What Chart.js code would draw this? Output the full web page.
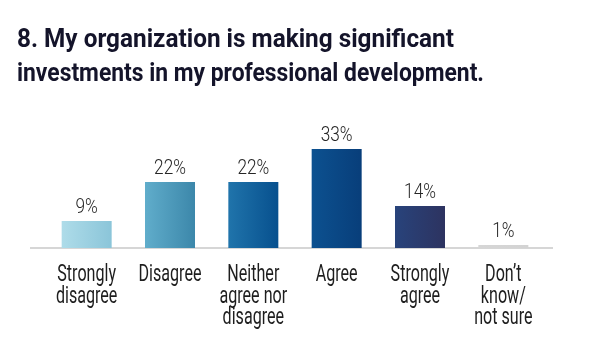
<!DOCTYPE html>
<html>
<head>
<meta charset="utf-8">
<script src="https://cdn.jsdelivr.net/npm/chart.js@4.4.1/dist/chart.umd.min.js"></script>
<style>
  html, body { margin: 0; padding: 0; background: #fff; }
  #wrap { position: relative; width: 600px; height: 355px; overflow: hidden; }
  #title {
    position: absolute; left: 17px; top: 21px;
    font-family: Roboto, 'Liberation Sans', sans-serif;
    font-weight: bold; font-size: 25.5px; line-height: 34px; color: #14142a;
    white-space: nowrap;
  }
  #title span { display: inline-block; transform-origin: 0 0; }
  canvas { position: absolute; left: 0; top: 0; }
</style>
</head>
<body>
<div id="wrap">
  <canvas id="c" width="600" height="355"></canvas>
  <div id="title"><span data-w="437">8. My organization is making significant</span><br><span data-w="467">investments in my professional development.</span></div>
</div>
<script>
// ---- data ----
const categories = [
  ['Strongly', 'disagree'],
  ['Disagree'],
  ['Neither', 'agree nor', 'disagree'],
  ['Agree'],
  ['Strongly', 'agree'],
  ['Don\u2019t', 'know/', 'not sure']
];
const values = [9, 22, 22, 33, 14, 1];
const valueLabels = ['9%', '22%', '22%', '33%', '14%', '1%'];

// ---- style ----
const gradLeft  = ['#aedce9', '#60adcb', '#2074ab', '#0c5190', '#28437b', '#d6d6d6'];
const gradRight = ['#8bc5d9', '#3c87aa', '#07508e', '#083e7a', '#2d3360', '#d3d3d3'];
const FONT = "Roboto, 'Liberation Sans', sans-serif";
const SQUEEZE = 0.7;

document.querySelectorAll('#title span').forEach(s => {
  const w = s.getBoundingClientRect().width;
  s.style.transform = 'scaleX(' + (parseFloat(s.dataset.w) / w) + ')';
});

// Category axis whose labels are drawn horizontally condensed
class CondensedCategory extends Chart.CategoryScale {
  drawLabels(chartArea) {
    const ctx = this.ctx;
    const items = this.getLabelItems(chartArea);
    for (const item of items) {
      const o = item.options;
      const lines = Array.isArray(item.label) ? item.label : [item.label];
      ctx.save();
      ctx.translate(o.translation[0], o.translation[1]);
      ctx.scale(SQUEEZE, 1);
      ctx.font = item.font.string;
      ctx.fillStyle = o.color;
      ctx.textAlign = 'center';
      ctx.textBaseline = 'alphabetic';
      lines.forEach((ln, i) => ctx.fillText(ln, 0, i * item.font.lineHeight));
      ctx.restore();
    }
  }
}
CondensedCategory.id = 'condensedCategory';
CondensedCategory.defaults = Chart.CategoryScale.defaults;
Chart.register(CondensedCategory);

function barColor(ctx) {
  const chart = ctx.chart;
  const xs = chart.scales && chart.scales.x;
  if (!chart.chartArea || !xs) return gradLeft[ctx.dataIndex];
  const cx = xs.getPixelForValue(ctx.dataIndex);
  const half = xs.width / categories.length * 0.3;
  const g = chart.ctx.createLinearGradient(cx - half, 0, cx + half, 0);
  g.addColorStop(0, gradLeft[ctx.dataIndex]);
  g.addColorStop(1, gradRight[ctx.dataIndex]);
  return g;
}

const extras = {
  id: 'extras',
  beforeDatasetsDraw(chart) {
    const c = chart.ctx, a = chart.chartArea;
    const y0 = chart.scales.y.getPixelForValue(0);
    c.save();
    c.strokeStyle = '#c9c9c9';
    c.lineWidth = 1.5;
    c.beginPath();
    c.moveTo(a.left - 15, y0);
    c.lineTo(a.right + 8, y0);
    c.stroke();
    c.restore();
  },
  afterDatasetsDraw(chart) {
    const c = chart.ctx;
    const meta = chart.getDatasetMeta(0);
    c.save();
    c.font = '300 21px ' + FONT;
    c.fillStyle = '#262626';
    c.textAlign = 'center';
    c.textBaseline = 'alphabetic';
    meta.data.forEach((bar, i) => {
      c.save();
      c.translate(bar.x, bar.y - 8);
      c.scale(0.82, 1);
      c.fillText(valueLabels[i], 0, 0);
      c.restore();
    });
    c.restore();
  }
};

new Chart(document.getElementById('c'), {
  type: 'bar',
  data: {
    labels: categories,
    datasets: [{
      data: values,
      backgroundColor: barColor,
      borderWidth: 0,
      barPercentage: 0.6,
      categoryPercentage: 1.0
    }]
  },
  options: {
    responsive: false,
    animation: false,
    devicePixelRatio: 1,
    layout: { padding: { left: 45, right: 55, top: 128, bottom: 0 } },
    plugins: { legend: { display: false }, tooltip: { enabled: false }, title: { display: false } },
    scales: {
      x: {
        type: 'condensedCategory',
        grid: { display: false, drawTicks: false },
        border: { display: false },
        ticks: {
          padding: 33,
          color: '#1e1e1e',
          font: { family: FONT, size: 23, weight: '400', lineHeight: '21.5px' },
          maxRotation: 0,
          autoSkip: false
        },
        afterFit(s) { s.height = 107; }
      },
      y: {
        display: false,
        min: 0,
        max: 40
      }
    }
  },
  plugins: [extras]
});
</script>
</body>
</html>
